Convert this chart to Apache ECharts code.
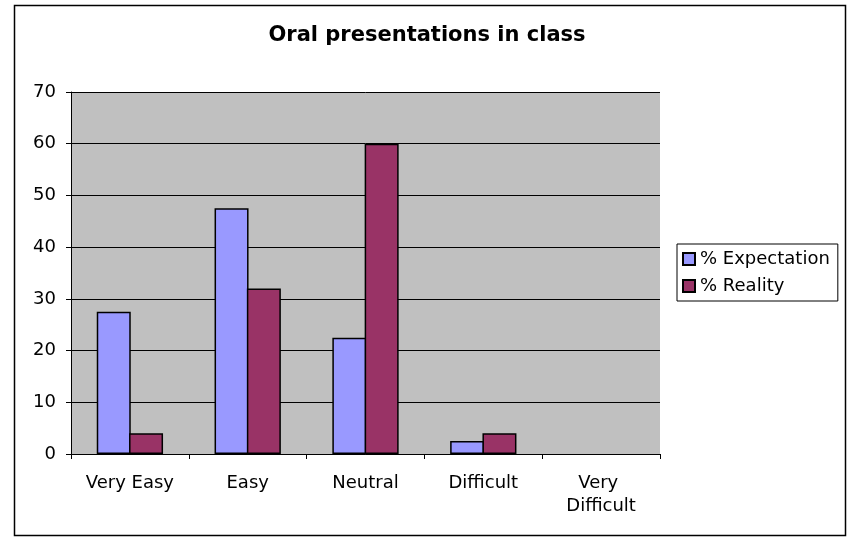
<!DOCTYPE html>
<html><head><meta charset="utf-8">
<script src="https://cdn.jsdelivr.net/npm/echarts@6/dist/echarts.min.js"></script>
<style>html,body{margin:0;padding:0;background:#fff}#c{width:854px;height:537px}</style>
</head><body><div id="c"></div>
<script>
var categories = ['Very Easy', 'Easy', 'Neutral', 'Difficult', 'Very Difficult'];
var expectation = [27.5, 47.5, 22.5, 2.5, 0];
var reality = [4, 32, 60, 4, 0];
var yTicks = [0, 10, 20, 30, 40, 50, 60, 70];

function toData(arr) {
  return arr.map(function (v) { return v === 0 ? {value: v, itemStyle: {borderWidth: 0}} : v; });
}

var chart = echarts.init(document.getElementById('c'), null, {renderer: 'canvas'});
var font = 'DejaVu Sans, Verdana, sans-serif';
chart.setOption({
  animation: false,
  backgroundColor: '#fff',
  textStyle: {fontFamily: font},
  graphic: [{type: 'rect', shape: {x: 14.5, y: 5.5, width: 831, height: 530}, style: {fill: 'none', stroke: '#000', lineWidth: 1.5}, z: -1}],
  title: {text: 'Oral presentations in class', left: 'center', top: 20,
    textStyle: {fontFamily: font, fontWeight: 'bold', fontSize: 21, color: '#000'}},
  legend: {orient: 'vertical', left: 677, top: 244, width: 160,
    padding: [6, 8, 6, 5], itemGap: 9, itemWidth: 12, itemHeight: 12,
    borderColor: '#000', borderWidth: 1, backgroundColor: '#fff',
    icon: 'rect',
    textStyle: {fontFamily: font, fontSize: 18, color: '#000', padding: [0, 0, 0, 0]},
    data: ['% Expectation', '% Reality']},
  grid: {left: 71, right: 194, top: 92, bottom: 83, show: true, backgroundColor: '#C0C0C0', borderWidth: 0},
  xAxis: {type: 'category', data: categories,
    axisLine: {lineStyle: {color: '#000', width: 1}},
    axisTick: {show: true, length: 5, lineStyle: {color: '#000'}},
    axisLabel: {interval: 0, fontFamily: font, fontSize: 18, color: '#000', margin: 18, width: 110, overflow: 'break', lineHeight: 23}},
  yAxis: {type: 'value', min: 0, max: 70, interval: 10,
    axisLine: {show: true, lineStyle: {color: '#000', width: 1}},
    axisTick: {show: true, length: 5, lineStyle: {color: '#000'}},
    splitLine: {lineStyle: {color: '#000', width: 1}},
    axisLabel: {fontFamily: font, fontSize: 18, color: '#000', margin: 15,
      formatter: function (v) { return yTicks.indexOf(v) >= 0 ? String(v) : ''; }}},
  series: [
    {name: '% Expectation', type: 'bar', data: toData(expectation), barGap: '-5%', barWidth: 34,
      itemStyle: {color: '#9999FF', borderColor: '#000', borderWidth: 1.5}},
    {name: '% Reality', type: 'bar', data: toData(reality), barGap: '-5%', barWidth: 34,
      itemStyle: {color: '#993366', borderColor: '#000', borderWidth: 1.5}}
  ]
});
</script></body></html>
